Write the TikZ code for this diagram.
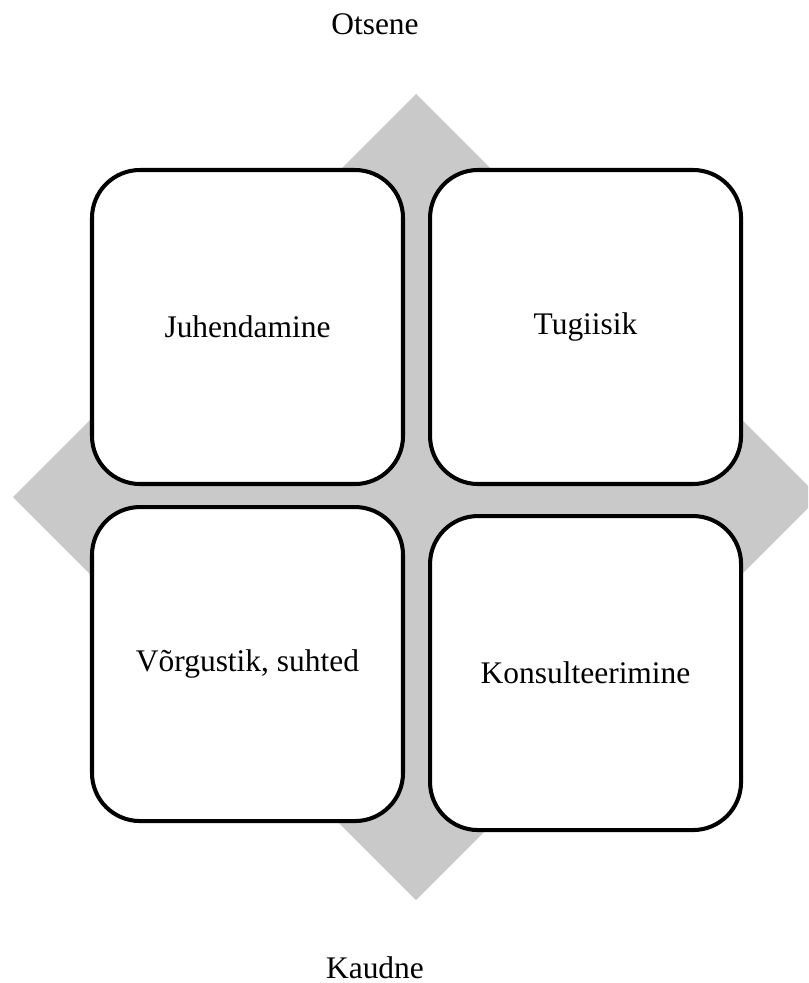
\documentclass[tikz,border=0pt]{standalone}
\usepackage{fontspec}
\setmainfont{Liberation Serif}
\usetikzlibrary{positioning}
\definecolor{qgray}{HTML}{C9C9C9}

\begin{document}
\begin{tikzpicture}[
    quad/.style={draw=black,line width=2.3pt,rounded corners=0.96cm,fill=white,
      minimum width=6.22cm,minimum height=6.28cm,align=center,inner sep=0pt,
      font=\fontsize{17.9}{21}\selectfont},
    axislbl/.style={anchor=base,font=\fontsize{17.9}{21}\selectfont}]
  \useasboundingbox (0,0) rectangle (16.16,-19.66);
  \clip (0,0) rectangle (16.16,-19.66);
  \fill[qgray] (8.32,-1.88) -- (16.38,-9.94) -- (8.32,-18.0) -- (0.26,-9.94) -- cycle;
  \node[quad] (juh) at (4.95,-6.54) {Juhendamine};
  \node[quad,right=0.46cm of juh] (tug) {Tugiisik};
  \node[quad,below=0.38cm of juh] (vor) {Võrgustik, suhted};
  \node[quad,below=0.56cm of tug] (kon) {Konsulteerimine};
  \node[axislbl] (ots) at (7.5,-0.70) {Otsene};
  \node[axislbl] (kau) at (7.5,-19.56) {Kaudne};
\end{tikzpicture}
\end{document}
